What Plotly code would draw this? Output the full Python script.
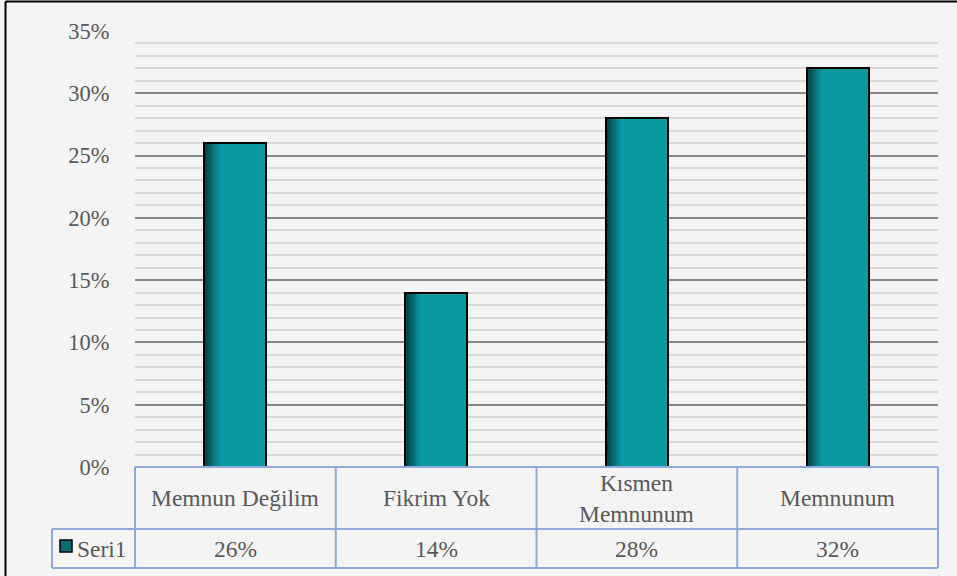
import plotly.graph_objects as go

categories = ["Memnun Değilim", "Fikrim Yok", "Kısmen<br>Memnunum", "Memnunum"]
values = [0.26, 0.14, 0.28, 0.32]
value_labels = ["26%", "14%", "28%", "32%"]
series_name = "Seri1"
y_ticks = [0, 0.05, 0.10, 0.15, 0.20, 0.25, 0.30, 0.35]

FONT = "Liberation Serif"
TXT = "#595959"
BLUE = "#8eaadb"
TEAL = (11, 154, 161)
DARK = (5, 52, 56)
BG = "#f4f4f4"
FS_TICK = 22.5
FS_TAB = 23.5

W, H = 957, 576
L, R, T, B = 135, 19, 31, 109
PW, PH = W - L - R, H - T - B

def px_x(p):
    return (p - L) / PW

def px_y(p):
    return (H - B - p) / PH

x_idx = list(range(len(categories)))
bw = 0.31

fig = go.Figure()
fig.add_trace(go.Bar(x=x_idx, y=values, width=bw, marker=dict(color="rgb(%d,%d,%d)" % TEAL, line=dict(width=0)),
                     showlegend=False, hoverinfo="skip"))
N = 14
grad_w = bw * 0.26
dw = grad_w / N
for k in range(N):
    t = (k + 0.5) / N
    t = t ** 0.9
    c = tuple(int(DARK[i] + (TEAL[i] - DARK[i]) * t) for i in range(3))
    fig.add_trace(go.Bar(x=x_idx, y=values, width=dw * 1.05, offset=-bw / 2 + k * dw,
                         marker=dict(color="rgb(%d,%d,%d)" % c, line=dict(width=0)),
                         showlegend=False, hoverinfo="skip"))
fig.add_trace(go.Bar(x=x_idx, y=values, width=bw, marker=dict(color="rgba(0,0,0,0)", line=dict(color="black", width=2)),
                     showlegend=False, hoverinfo="skip"))

shapes = []
y0 = 0
y1 = px_y(529)
y2 = px_y(568)
xl = px_x(52)
line = dict(color=BLUE, width=2)
shapes.append(dict(type="line", xref="paper", yref="paper", x0=0, x1=1, y0=y0, y1=y0, line=line))
shapes.append(dict(type="line", xref="paper", yref="paper", x0=xl, x1=1, y0=y1, y1=y1, line=line))
shapes.append(dict(type="line", xref="paper", yref="paper", x0=xl, x1=1, y0=y2, y1=y2, line=line))
shapes.append(dict(type="line", xref="paper", yref="paper", x0=xl, x1=xl, y0=y1, y1=y2, line=line))
for k in range(len(categories) + 1):
    xp = k / len(categories)
    shapes.append(dict(type="line", xref="paper", yref="paper", x0=xp, x1=xp, y0=y0, y1=y2, line=line))
shapes.append(dict(type="rect", xref="paper", yref="paper", x0=px_x(60), x1=px_x(72), y0=px_y(552), y1=px_y(540),
                   fillcolor="rgb(9,110,116)", line=dict(color="black", width=1.5)))
shapes.append(dict(type="line", xref="paper", yref="paper", x0=px_x(5.5), x1=px_x(W + 5), y0=px_y(1.5), y1=px_y(1.5),
                   line=dict(color="black", width=2)))
shapes.append(dict(type="line", xref="paper", yref="paper", x0=px_x(5.5), x1=px_x(5.5), y0=px_y(1.5), y1=px_y(H + 5),
                   line=dict(color="black", width=2)))

annotations = []
for i, c in enumerate(categories):
    xc = (i + 0.5) / len(categories)
    annotations.append(dict(xref="paper", yref="paper", x=xc, y=(y0 + y1) / 2, text=c, showarrow=False,
                            font=dict(family=FONT, size=FS_TAB, color=TXT), xanchor="center", yanchor="middle"))
    annotations.append(dict(xref="paper", yref="paper", x=xc, y=(y1 + y2) / 2, text=value_labels[i], showarrow=False,
                            font=dict(family=FONT, size=FS_TAB, color=TXT), xanchor="center", yanchor="middle"))
annotations.append(dict(xref="paper", yref="paper", x=px_x(75), y=(y1 + y2) / 2, text=series_name, showarrow=False,
                        font=dict(family=FONT, size=FS_TAB, color=TXT), xanchor="left", yanchor="middle"))

fig.update_layout(
    width=W, height=H,
    margin=dict(l=L, r=R, t=T, b=B, pad=0),
    paper_bgcolor=BG, plot_bgcolor=BG,
    font=dict(family=FONT, size=FS_TICK, color=TXT),
    barmode="overlay", bargap=0,
    showlegend=False,
    shapes=shapes, annotations=annotations,
    xaxis=dict(range=[-0.5, len(categories) - 0.5], showticklabels=False, showgrid=False, zeroline=False,
               showline=False, ticks=""),
    yaxis=dict(range=[0, 0.35], tickvals=y_ticks, tickformat=".0%", showgrid=True, gridcolor="#878787",
               gridwidth=1.5, zeroline=False, showline=False, ticks="outside", ticklen=20,
               tickcolor="rgba(0,0,0,0)", tickfont=dict(family=FONT, size=FS_TICK, color=TXT),
               minor=dict(dtick=0.01, tick0=0, showgrid=True, gridcolor="#d9d9d9", gridwidth=1.5)),
)

fig.write_html("out.html", config={"displayModeBar": False},
               post_script="document.body.style.margin='0';document.body.style.background='%s';" % BG)
